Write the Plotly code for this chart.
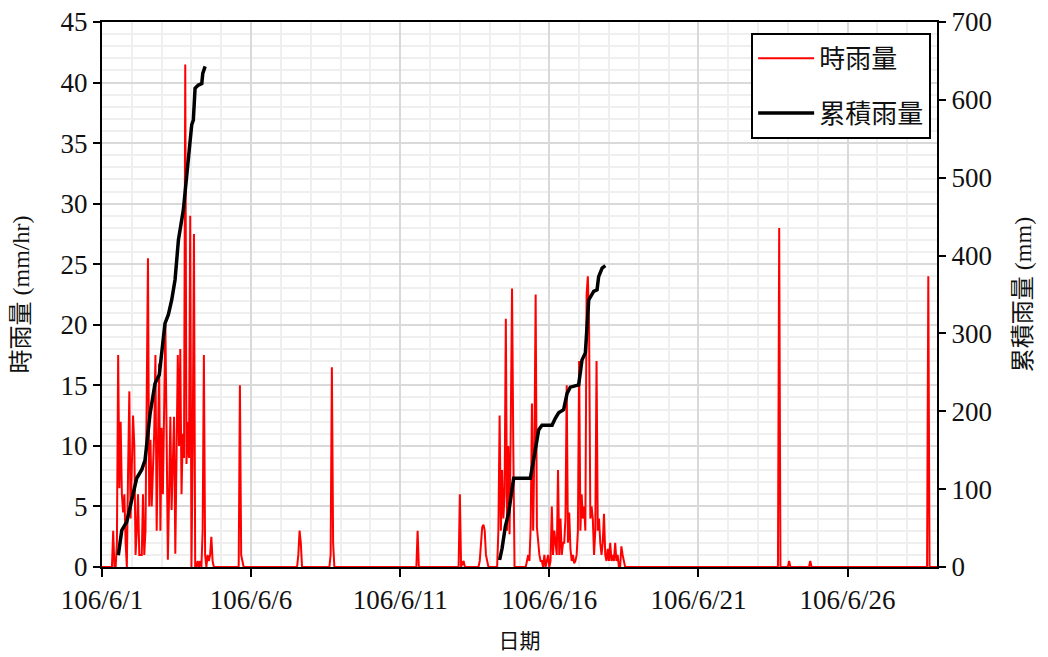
import pandas as pd
import plotly.graph_objects as go

# ---------------- data ----------------
x_tick_dates = ["2017-06-01", "2017-06-06", "2017-06-11", "2017-06-16", "2017-06-21", "2017-06-26"]
x_tick_labels = ["106/6/1", "106/6/6", "106/6/11", "106/6/16", "106/6/21", "106/6/26"]

# hourly rainfall (mm/hr): start hour of each rainy spell and its hourly values
rain_event_start = [
    "2017-06-01 08:00", "2017-06-05 15:00", "2017-06-07 14:00", "2017-06-08 16:00",
    "2017-06-11 14:00", "2017-06-13 00:00", "2017-06-13 16:00", "2017-06-23 17:00",
    "2017-06-24 01:00", "2017-06-24 18:00", "2017-06-28 17:00",
]
rain_event_mm = [
    [0, 3, 0, 0, 2, 17.5, 6.5, 12, 6, 4.5, 6, 2, 0, 8, 14.5, 4, 8, 12.5, 10, 1, 3, 6, 1, 1, 1, 6, 1, 3,
     12, 25.5, 5, 10.5, 5, 8, 11, 17.5, 3, 10, 16.8, 3, 11.5, 6, 12, 20, 11, 0.6, 6, 12.4, 4.7, 8, 12.4,
     1.1, 8, 17.5, 10, 18, 6, 11, 9, 41.5, 8.5, 12, 9, 29, 0, 10, 27.5, 0, 0, 0.5, 0, 0.5, 0, 3, 17.5,
     1, 0, 1, 0.5, 1, 2.5, 0.5, 0],
    [15, 1, 0.5, 0],
    [1, 3, 2, 0],
    [1, 16.5, 2, 0],
    [3, 0],
    [6, 0, 0.3, 0.5, 0],
    [0.5, 2.5, 3.3, 3.5, 3, 1, 0.3, 0,
     0, 0, 0, 0, 0, 0, 0,
     3, 12.5, 3, 8, 4, 6, 20.5, 3, 10, 2.7, 12, 23, 10,
     0, 0, 0, 0, 0, 0, 0, 0, 0, 0,
     0.5, 1, 0.5, 3.3, 13.5, 3, 10, 22.5, 3.3, 2, 1, 0.5,
     0.5, 0, 1, 0, 0.5, 1, 0, 0.5, 5, 1, 3, 2, 1, 8, 1, 4, 1, 2,
     2, 4, 15, 2, 4.5, 1.5, 0.5, 1, 0.3, 0.5, 1, 3,
     17, 3, 6, 4, 5, 3, 22.5, 24, 20, 4, 5, 4, 1, 3, 17, 3, 4, 2, 1, 2, 4.4, 1,
     0.5, 1.5, 0.5, 2, 0.5, 1, 0.5, 2, 0.5, 1, 0, 0, 1.7, 1, 0.5, 0],
    [28, 0],
    [0.5, 0],
    [0.5, 0],
    [24, 0],
]

# cumulative rainfall (mm), storm 1 and storm 2
cum1_time = ["2017-06-01 13:06", "2017-06-01 15:54", "2017-06-01 19:54", "2017-06-01 23:54",
             "2017-06-02 03:54", "2017-06-02 08:00", "2017-06-02 10:36", "2017-06-02 14:42",
             "2017-06-02 18:42", "2017-06-02 22:06", "2017-06-03 02:42", "2017-06-03 05:24",
             "2017-06-03 08:06", "2017-06-03 10:48", "2017-06-03 13:30", "2017-06-03 17:30",
             "2017-06-03 19:42", "2017-06-03 22:54", "2017-06-04 00:12", "2017-06-04 01:30",
             "2017-06-04 02:54", "2017-06-04 05:36", "2017-06-04 08:18", "2017-06-04 09:06",
             "2017-06-04 11:00"]
cum1_mm = [15, 47, 58, 86, 114, 125, 137, 197, 236, 247, 313, 324, 343, 369, 420, 459,
           497, 548, 568, 574, 615, 619, 621, 634, 643]

cum2_time = ["2017-06-14 08:00", "2017-06-14 10:00", "2017-06-14 12:36", "2017-06-14 15:12",
             "2017-06-14 19:18", "2017-06-15 08:42", "2017-06-15 12:42", "2017-06-15 15:24",
             "2017-06-15 18:06", "2017-06-16 02:12", "2017-06-16 04:48", "2017-06-16 07:30",
             "2017-06-16 11:30", "2017-06-16 14:18", "2017-06-16 16:54", "2017-06-16 23:36",
             "2017-06-17 02:18", "2017-06-17 05:00", "2017-06-17 07:42", "2017-06-17 11:42",
             "2017-06-17 14:24", "2017-06-17 15:42", "2017-06-17 18:30", "2017-06-17 21:06"]
cum2_mm = [9, 24, 52, 69, 114, 114, 150, 176, 182, 182, 191, 198, 202, 223, 231, 234,
           266, 275, 343, 354, 356, 373, 384, 387]

# ---------------- build hourly series ----------------
hours = pd.date_range("2017-06-01 00:00", "2017-06-29 00:00", freq="h")
rain = pd.Series(0.0, index=hours)
for start, vals in zip(rain_event_start, rain_event_mm):
    rng = pd.date_range(start, periods=len(vals), freq="h")
    rain.loc[rng] = vals

SERIF = "Liberation Serif, Times New Roman, Noto Sans CJK TC, serif"
TXT = "#111111"

fig = go.Figure()
fig.add_trace(go.Scatter(
    x=rain.index, y=rain.values, mode="lines", name="時雨量",
    line=dict(color="#FF0000", width=2), legendgroup="a", yaxis="y",
))
fig.add_trace(go.Scatter(
    x=pd.to_datetime(cum1_time), y=cum1_mm, mode="lines", name="累積雨量",
    line=dict(color="#000000", width=3.5), legendgroup="b", yaxis="y2",
))
fig.add_trace(go.Scatter(
    x=pd.to_datetime(cum2_time), y=cum2_mm, mode="lines", name="累積雨量",
    line=dict(color="#000000", width=3.5), legendgroup="b", showlegend=False, yaxis="y2",
))

fig.update_layout(
    width=1040, height=649,
    margin=dict(l=94, r=111, t=14, b=90, autoexpand=False),
    paper_bgcolor="white", plot_bgcolor="white",
    font=dict(family=SERIF, size=27, color=TXT),
    showlegend=True,
    legend=dict(
        x=0.993, y=0.98, xanchor="right", yanchor="top",
        bordercolor="#000000", borderwidth=2, bgcolor="white",
        font=dict(family=SERIF, size=26, color=TXT),
        tracegroupgap=18, itemwidth=56,
    ),
    xaxis=dict(
        type="date", range=["2017-06-01", "2017-06-29"],
        tickmode="array", tickvals=x_tick_dates, ticktext=x_tick_labels,
        ticks="outside", ticklen=8, tickwidth=2, tickcolor="#000000",
        showline=True, linecolor="#000000", linewidth=2, mirror=True,
        showgrid=True, gridcolor="#d9d9d9", gridwidth=2,
        minor=dict(tickmode="linear", tick0="2017-06-01", dtick=86400000,
                   showgrid=True, gridcolor="#efefef", gridwidth=2, ticks=""),
        tickfont=dict(family=SERIF, size=27, color=TXT),
        title=dict(text="日期", font=dict(family=SERIF, size=21, color=TXT), standoff=19),
        zeroline=False, layer="below traces", automargin=False,
        ticklabeloverflow="allow",
    ),
    yaxis=dict(
        range=[0, 45], tickmode="linear", tick0=0, dtick=5,
        ticks="outside", ticklen=7, tickwidth=2, tickcolor="#000000",
        showline=True, linecolor="#000000", linewidth=2,
        showgrid=True, gridcolor="#d9d9d9", gridwidth=2,
        minor=dict(tickmode="linear", tick0=0, dtick=1, showgrid=True,
                   gridcolor="#efefef", gridwidth=2, ticks=""),
        tickfont=dict(family=SERIF, size=27, color=TXT),
        title=dict(text="時雨量 (mm/hr)", font=dict(family=SERIF, size=24, color=TXT), standoff=27),
        zeroline=False, layer="below traces", automargin=False,
        ticklabeloverflow="allow",
    ),
    yaxis2=dict(
        range=[0, 700], tickmode="linear", tick0=0, dtick=100,
        overlaying="y", side="right", anchor="x",
        ticks="outside", ticklen=7, tickwidth=2, tickcolor="#000000",
        showline=True, linecolor="#000000", linewidth=2,
        showgrid=False, zeroline=False,
        tickfont=dict(family=SERIF, size=27, color=TXT),
        title=dict(text="累積雨量 (mm)", font=dict(family=SERIF, size=24, color=TXT), standoff=23),
        automargin=False, ticklabeloverflow="allow",
    ),
)

fig.write_html("out.html")
